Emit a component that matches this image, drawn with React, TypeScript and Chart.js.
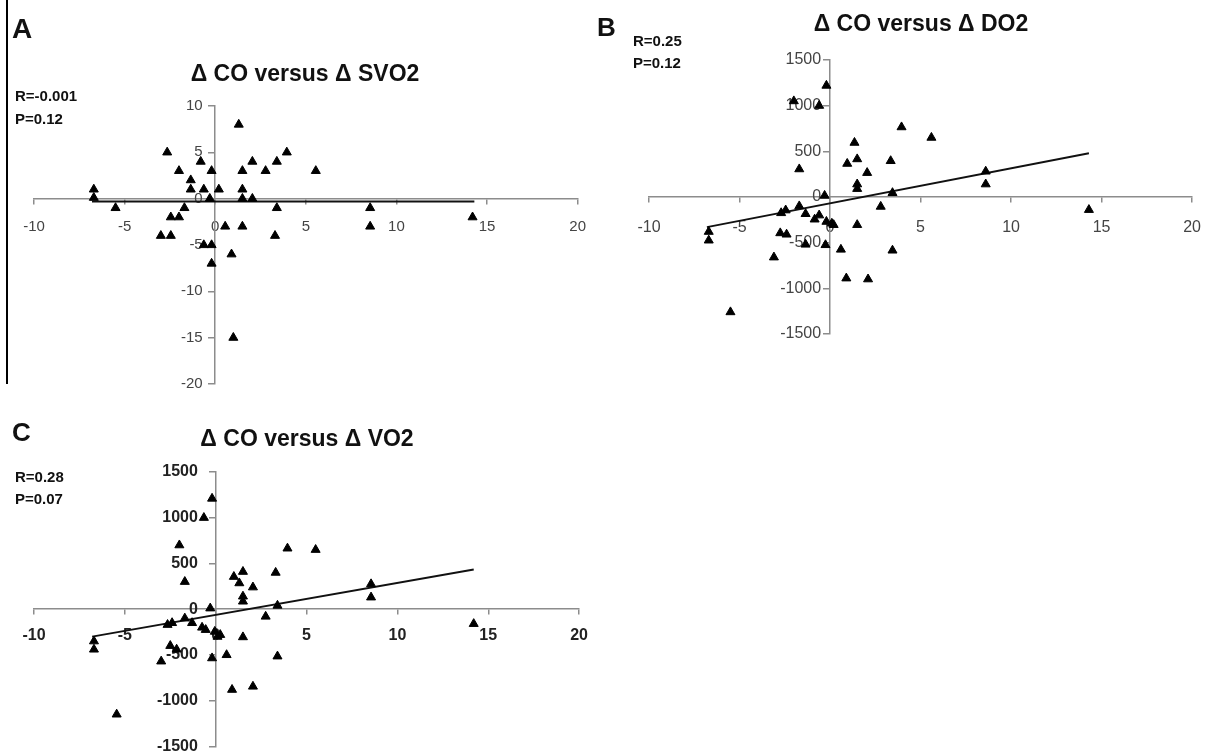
import React, { useEffect, useRef } from "react";
import { Chart, registerables } from "chart.js";

Chart.register(...registerables);

// ---------- shared axis ticks ----------
const xTickValues = [-10, -5, 0, 5, 10, 15, 20];
const yTicksA = [-20, -15, -10, -5, 0, 5, 10];
const yTicksBC = [-1500, -1000, -500, 0, 500, 1000, 1500];

// ---------- Panel A: ΔCO vs ΔSVO2 ----------
const coA = [-6.7, -6.7, -5.5, -2.65, -3.0, -2.45, -2.45, -2.0, -2.0, -1.7, -1.35, -1.35, -0.8, -0.63, -0.3, -0.2, -0.63, -0.2, -0.2, 0.2, 0.55, 0.9, 1.0, 1.3, 1.5, 1.5, 1.5, 1.5, 2.05, 2.05, 2.78, 3.4, 3.4, 3.3, 3.95, 5.55, 8.55, 8.55, 14.2];
const svo2A = [1, 0.1, -1, 5, -4, -4, -2, -2, 3, -1, 2, 1, 4, 1, 0, 3, -5, -5, -7, 1, -3, -6, -15, 8, 3, 1, 0, -3, 4, 0, 3, 4, -1, -4, 5, 3, -1, -3, -2];
const trendAx = [-6.8, 14.3];
const trendAy = [-0.3, -0.3];

// ---------- Panel B: ΔCO vs ΔDO2 ----------
const coB = [-6.7, -6.7, -5.5, -3.1, -2.7, -2.45, -2.75, -2.4, -2.0, -1.7, -1.7, -1.35, -1.35, -0.85, -0.6, -0.6, -0.3, -0.25, -0.2, -0.2, 0.1, 0.2, 0.6, 0.9, 0.95, 1.35, 1.5, 1.5, 1.5, 1.5, 2.05, 2.1, 2.8, 3.35, 3.45, 3.45, 3.95, 5.6, 8.6, 8.6, 14.3];
const do2B = [-380, -475, -1260, -660, -175, -145, -395, -410, 1050, 305, -100, -185, -520, -245, -200, 1000, 15, -525, 1220, -270, -290, -305, -575, -890, 365, 595, 415, 140, 90, -305, 265, -900, -105, 395, 45, -585, 765, 650, 280, 140, -140];
const trendBx = [-6.8, 14.3];
const trendBy = [-330, 480];

// ---------- Panel C: ΔCO vs ΔVO2 ----------
const coC = [-6.7, -6.7, -5.45, -3.0, -2.65, -2.4, -2.5, -2.15, -2.0, -1.7, -1.7, -1.3, -0.65, -0.75, -0.55, -0.3, -0.2, -0.2, -0.05, 0.1, 0.25, 0.6, 0.9, 1.0, 1.3, 1.5, 1.5, 1.5, 1.5, 2.05, 2.05, 2.75, 3.3, 3.4, 3.4, 3.95, 5.5, 8.55, 8.55, 14.2];
const vo2C = [-350, -440, -1150, -570, -170, -150, -400, -440, 700, 300, -100, -150, 1000, -200, -225, 10, -535, 1210, -245, -300, -280, -500, -880, 355, 285, 410, 140, 85, -305, 240, -845, -80, 400, 40, -515, 665, 650, 275, 130, -160];
const trendCx = [-6.8, 14.2];
const trendCy = [-300, 435];

const AXIS = "#8c8c8c";

type PanelProps = {
  left: number;
  top: number;
  width: number;
  height: number;
  xs: number[];
  ys: number[];
  tx: number[];
  ty: number[];
  yTicks: number[];
  pad: { left: number; right: number; top: number; bottom: number };
  fontSize: number;
  fontWeight: string;
  tickColor: string;
  xPad: number;
  ySpaces: number;
};

function ScatterPanel(p: PanelProps) {
  const ref = useRef<HTMLCanvasElement | null>(null);
  useEffect(() => {
    if (!ref.current) return;
    const pts = p.xs.map((x, i) => ({ x, y: p.ys[i] }));
    const trend = p.tx.map((x, i) => ({ x, y: p.ty[i] }));
    const font = { family: "'Liberation Sans', Arial, sans-serif", size: p.fontSize, weight: p.fontWeight as any };
    const gap = " ".repeat(p.ySpaces);
    const chart = new Chart(ref.current, {
      type: "scatter",
      data: {
        datasets: [
          {
            type: "scatter",
            data: pts,
            pointStyle: "triangle",
            pointRadius: 5.2,
            pointBackgroundColor: "#000",
            pointBorderColor: "#000",
            pointBorderWidth: 1,
            order: 0,
          } as any,
          {
            type: "line",
            data: trend,
            borderColor: "#111",
            borderWidth: 2,
            pointRadius: 0,
            showLine: true,
            fill: false,
            order: 1,
          } as any,
        ],
      },
      options: {
        animation: false,
        responsive: false,
        devicePixelRatio: 1,
        layout: { padding: p.pad },
        plugins: { legend: { display: false }, tooltip: { enabled: false } },
        events: [],
        scales: {
          x: {
            type: "linear",
            min: xTickValues[0],
            max: xTickValues[xTickValues.length - 1],
            position: { y: 0 } as any,
            afterBuildTicks: (s: any) => {
              s.ticks = xTickValues.map((v) => ({ value: v }));
            },
            ticks: {
              font,
              color: p.tickColor,
              padding: p.xPad,
              maxRotation: 0,
              autoSkip: false,
              callback: (v: any) => String(v),
            },
            grid: { display: true, drawOnChartArea: false, drawTicks: true, tickLength: 5, color: AXIS, lineWidth: 1.5 },
            border: { display: true, color: AXIS, width: 1.5 },
          },
          y: {
            type: "linear",
            min: p.yTicks[0],
            max: p.yTicks[p.yTicks.length - 1],
            position: { x: 0 } as any,
            afterBuildTicks: (s: any) => {
              s.ticks = p.yTicks.map((v) => ({ value: v }));
            },
            ticks: {
              font,
              color: p.tickColor,
              padding: 0,
              autoSkip: false,
              callback: (v: any) => String(v) + gap,
            },
            grid: { display: true, drawOnChartArea: false, drawTicks: true, tickLength: 6, color: AXIS, lineWidth: 1.5 },
            border: { display: true, color: AXIS, width: 1.5 },
          },
        },
      },
    });
    return () => chart.destroy();
  }, []);
  return (
    <canvas
      ref={ref}
      width={p.width}
      height={p.height}
      style={{ position: "absolute", left: p.left, top: p.top, width: p.width, height: p.height }}
    />
  );
}

const textBase: React.CSSProperties = {
  position: "absolute",
  fontFamily: "'Liberation Sans', Arial, sans-serif",
  fontWeight: "bold",
  color: "#111",
  whiteSpace: "nowrap",
};

function Txt({ x, y, size, children, center }: { x: number; y: number; size: number; children: React.ReactNode; center?: boolean }) {
  const style: React.CSSProperties = {
    ...textBase,
    fontSize: size,
    lineHeight: `${size}px`,
    top: y - size / 2,
  };
  if (center) {
    style.left = x - 250;
    style.width = 500;
    style.textAlign = "center";
  } else {
    style.left = x;
  }
  return <div style={style}>{children}</div>;
}

export default function App() {
  return (
    <div style={{ position: "fixed", left: 0, top: 0, width: 1217, height: 756, background: "#fff", overflow: "hidden" }}>
      <div style={{ position: "absolute", left: 6, top: 0, width: 2, height: 384, background: "#000" }} />

      <ScatterPanel
        left={0} top={0} width={600} height={400}
        xs={coA} ys={svo2A} tx={trendAx} ty={trendAy} yTicks={yTicksA}
        pad={{ left: 34, right: 13, top: 106, bottom: 16 }}
        fontSize={15} fontWeight="normal" tickColor="#444" xPad={14} ySpaces={3}
      />
      <ScatterPanel
        left={600} top={0} width={617} height={400}
        xs={coB} ys={do2B} tx={trendBx} ty={trendBy} yTicks={yTicksBC}
        pad={{ left: 49, right: 16, top: 60, bottom: 66 }}
        fontSize={16} fontWeight="normal" tickColor="#444" xPad={16} ySpaces={2}
      />
      <ScatterPanel
        left={0} top={400} width={600} height={356}
        xs={coC} ys={vo2C} tx={trendCx} ty={trendCy} yTicks={yTicksBC}
        pad={{ left: 34, right: 13, top: 72, bottom: 8 }}
        fontSize={16} fontWeight="bold" tickColor="#222" xPad={12} ySpaces={4}
      />

      <Txt x={12} y={29} size={28}>A</Txt>
      <Txt x={305} y={73} size={23} center>Δ CO versus Δ SVO2</Txt>
      <Txt x={15} y={95} size={15}>R=-0.001</Txt>
      <Txt x={15} y={118} size={15}>P=0.12</Txt>

      <Txt x={597} y={27} size={26}>B</Txt>
      <Txt x={921} y={23} size={23} center>Δ CO versus Δ DO2</Txt>
      <Txt x={633} y={40} size={15}>R=0.25</Txt>
      <Txt x={633} y={62} size={15}>P=0.12</Txt>

      <Txt x={12} y={432} size={26}>C</Txt>
      <Txt x={307} y={438} size={23} center>Δ CO versus Δ VO2</Txt>
      <Txt x={15} y={476} size={15}>R=0.28</Txt>
      <Txt x={15} y={498} size={15}>P=0.07</Txt>
    </div>
  );
}
